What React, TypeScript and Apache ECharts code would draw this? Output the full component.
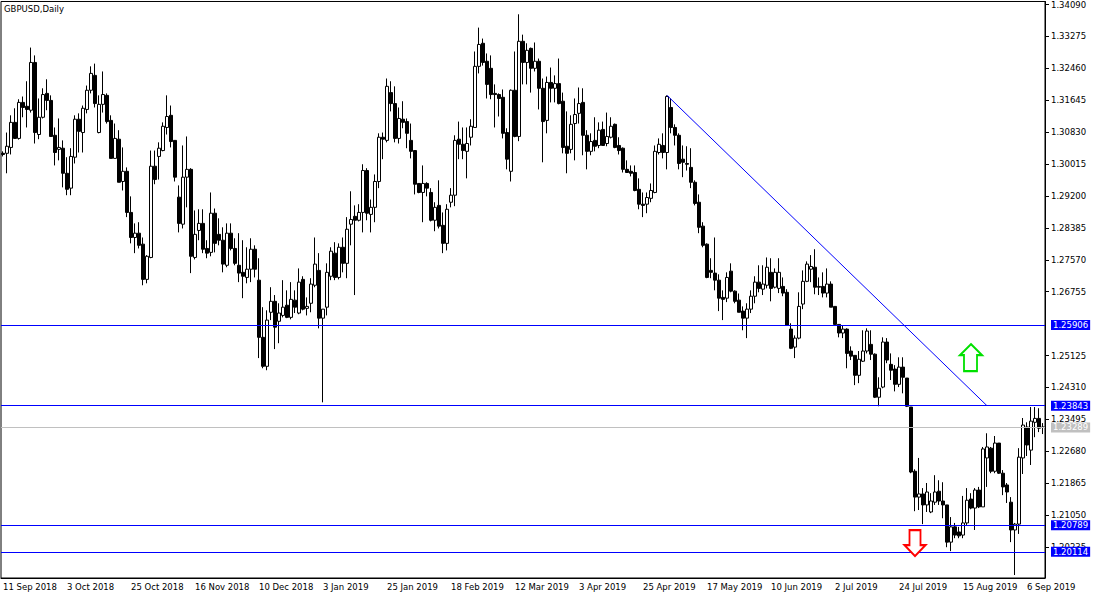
import React, { useEffect, useRef } from "react";
import * as echarts from "echarts";

// ---- Data (GBPUSD daily) ----
const opens = [
  1.3029,1.3029,1.3044,1.3108,1.3067,1.3159,1.3149,1.3139,1.3261,1.3077,
  1.3121,1.3182,1.3164,1.3075,1.3039,1.3042,1.2978,1.2940,1.3019,1.3116,
  1.3082,1.3141,1.3190,1.3228,1.3082,1.3154,1.3177,1.3113,1.3016,1.3065,
  1.2957,1.2983,1.2878,1.2814,1.2825,1.2797,1.2707,1.2763,1.2996,1.3021,
  1.3036,1.3095,1.3126,1.3062,1.2917,1.2848,1.2968,1.2988,1.2763,1.2832,
  1.2850,1.2786,1.2776,1.2876,1.2822,1.2807,1.2743,1.2825,1.2786,1.2743,
  1.2725,1.2712,1.2733,1.2784,1.2705,1.2559,1.2485,1.2623,1.2651,1.2600,
  1.2615,1.2641,1.2610,1.2654,1.2621,1.2707,1.2633,1.2646,1.2692,1.2730,
  1.2608,1.2636,1.2715,1.2774,1.2712,1.2789,1.2748,1.2848,1.2868,1.2858,
  1.2878,1.2985,1.2873,1.2891,1.2957,1.3070,1.3062,1.3184,1.3156,1.3067,
  1.3116,1.3110,1.3062,1.3036,1.2952,1.2929,1.2952,1.2929,1.2858,1.2896,
  1.2845,1.2799,1.2904,1.2922,1.3065,1.3052,1.3034,1.3070,1.3095,1.3251,
  1.3310,1.3264,1.3246,1.3182,1.3179,1.3172,1.3082,1.2983,1.3190,1.3072,
  1.3315,1.3261,1.3297,1.3246,1.3264,1.3195,1.3113,1.3210,1.3195,1.3207,
  1.3162,1.3047,1.3039,1.3105,1.3131,1.3159,1.3075,1.3034,1.3062,1.3049,
  1.3090,1.3054,1.3070,1.3103,1.3049,1.3042,1.2988,1.2983,1.2980,1.2937,
  1.2899,1.2899,1.2914,1.2929,1.3031,1.3049,1.3031,1.3146,1.3095,1.3075,
  1.3014,1.3003,1.2993,1.2955,1.2904,1.2843,1.2797,1.2730,1.2723,1.2705,
  1.2661,1.2659,1.2728,1.2677,1.2654,1.2626,1.2608,1.2631,1.2664,1.2700,
  1.2682,1.2692,1.2725,1.2687,1.2684,1.2689,1.2674,1.2580,1.2534,1.2557,
  1.2644,1.2702,1.2733,1.2738,1.2689,1.2689,1.2672,1.2695,1.2638,1.2592,
  1.2570,1.2580,1.2524,1.2513,1.2462,1.2498,1.2524,1.2541,1.2516,1.2406,
  1.2432,1.2547,1.2490,1.2478,1.2439,1.2483,1.2455,1.2381,1.2217,1.2151,
  1.2159,1.2131,1.2113,1.2138,1.2166,1.2141,1.2131,1.2036,1.2075,1.2062,
  1.2054,1.2085,1.2146,1.2123,1.2169,1.2126,1.2251,1.2276,1.2217,1.2289,
  1.2212,1.2182,1.2138,1.2067,1.2082,1.2251,1.2330,1.2271,1.2342,1.2352,1.2330,
];

const closes = [
  1.3026,1.3047,1.3108,1.3067,1.3159,1.3146,1.3141,1.3261,1.3082,1.3121,
  1.3179,1.3164,1.3072,1.3031,1.3044,1.2978,1.2937,1.3021,1.3116,1.3085,
  1.3144,1.3190,1.3233,1.3156,1.3154,1.3179,1.3110,1.3016,1.3067,1.2955,
  1.2983,1.2878,1.2814,1.2825,1.2794,1.2707,1.2766,1.2996,1.2962,1.3042,
  1.3098,1.3123,1.3059,1.2968,1.2850,1.2968,1.2988,1.2766,1.2822,1.2850,
  1.2784,1.2774,1.2876,1.2799,1.2807,1.2746,1.2825,1.2786,1.2748,1.2723,
  1.2715,1.2733,1.2784,1.2733,1.2559,1.2485,1.2603,1.2651,1.2585,1.2621,
  1.2636,1.2610,1.2656,1.2636,1.2700,1.2631,1.2638,1.2695,1.2746,1.2608,
  1.2631,1.2725,1.2779,1.2712,1.2789,1.2748,1.2835,1.2860,1.2858,1.2878,
  1.2985,1.2876,1.2891,1.2957,1.3070,1.3065,1.3200,1.3156,1.3067,1.3118,
  1.3108,1.3080,1.3034,1.2950,1.2929,1.2952,1.2940,1.2858,1.2891,1.2843,
  1.2799,1.2886,1.2922,1.3062,1.3052,1.3036,1.3054,1.3098,1.3251,1.3307,
  1.3261,1.3205,1.3179,1.3179,1.3169,1.3080,1.3014,1.3190,1.3072,1.3315,
  1.3261,1.3292,1.3246,1.3264,1.3195,1.3110,1.3210,1.3195,1.3207,1.3156,
  1.3044,1.3029,1.3103,1.3128,1.3156,1.3075,1.3034,1.3059,1.3047,1.3088,
  1.3049,1.3072,1.3098,1.3044,1.3036,1.2988,1.2980,1.2978,1.2934,1.2899,
  1.2896,1.2916,1.2934,1.3034,1.3052,1.3031,1.3174,1.3095,1.3075,1.3003,
  1.3006,1.3001,1.2955,1.2901,1.2840,1.2794,1.2712,1.2725,1.2705,1.2659,
  1.2656,1.2712,1.2677,1.2651,1.2623,1.2608,1.2631,1.2664,1.2700,1.2684,
  1.2695,1.2738,1.2684,1.2725,1.2725,1.2672,1.2590,1.2531,1.2557,1.2638,
  1.2702,1.2746,1.2740,1.2687,1.2687,1.2672,1.2695,1.2636,1.2592,1.2570,
  1.2580,1.2518,1.2511,1.2462,1.2503,1.2524,1.2575,1.2516,1.2406,1.2429,
  1.2547,1.2501,1.2475,1.2439,1.2483,1.2457,1.2383,1.2215,1.2151,1.2159,
  1.2131,1.2164,1.2141,1.2164,1.2141,1.2131,1.2036,1.2075,1.2054,1.2052,
  1.2085,1.2143,1.2123,1.2169,1.2126,1.2274,1.2279,1.2217,1.2289,1.2212,
  1.2177,1.2164,1.2067,1.2082,1.2253,1.2335,1.2284,1.2345,1.2352,1.2327,1.23289,
];

const lows = [
  1.3021,1.2978,1.3026,1.3066,1.3064,1.3121,1.3095,1.3133,1.3054,1.3065,
  1.3118,1.3139,1.3071,1.2998,1.3011,1.2942,1.2922,1.2922,1.3003,1.3031,
  1.3031,1.3131,1.3182,1.3146,1.3080,1.3133,1.3105,1.3016,1.3016,1.2955,
  1.2934,1.2866,1.2799,1.2774,1.2786,1.2692,1.2697,1.2761,1.2950,1.2962,
  1.3034,1.3077,1.3044,1.2957,1.2827,1.2837,1.2891,1.2723,1.2758,1.2807,
  1.2774,1.2761,1.2766,1.2776,1.2794,1.2725,1.2738,1.2781,1.2743,1.2700,
  1.2659,1.2697,1.2700,1.2712,1.2506,1.2480,1.2475,1.2603,1.2529,1.2544,
  1.2610,1.2608,1.2605,1.2621,1.2618,1.2628,1.2615,1.2623,1.2687,1.2582,
  1.2393,1.2615,1.2705,1.2705,1.2707,1.2725,1.2710,1.2794,1.2667,1.2855,
  1.2827,1.2858,1.2827,1.2853,1.2940,1.3014,1.3057,1.3136,1.3057,1.3054,
  1.3093,1.3042,1.3016,1.2924,1.2927,1.2853,1.2919,1.2855,1.2830,1.2837,
  1.2774,1.2781,1.2891,1.2894,1.3014,1.3014,1.2965,1.3049,1.3095,1.3233,
  1.3253,1.3169,1.3167,1.3095,1.3123,1.3067,1.2988,1.2957,1.3070,1.3060,
  1.3205,1.3205,1.3184,1.3238,1.3141,1.3006,1.3080,1.3159,1.3159,1.3154,
  1.3029,1.2978,1.3029,1.3011,1.3105,1.3024,1.2988,1.3024,1.3034,1.3042,
  1.3049,1.3047,1.3067,1.3042,1.3026,1.2980,1.2979,1.2970,1.2932,1.2886,
  1.2866,1.2876,1.2904,1.2927,1.3026,1.3016,1.2988,1.3080,1.3049,1.2988,
  1.2968,1.2985,1.2940,1.2896,1.2825,1.2789,1.2710,1.2710,1.2679,1.2626,
  1.2603,1.2649,1.2674,1.2646,1.2623,1.2577,1.2557,1.2621,1.2646,1.2674,
  1.2667,1.2684,1.2651,1.2684,1.2672,1.2664,1.2590,1.2529,1.2506,1.2554,
  1.2631,1.2700,1.2700,1.2669,1.2667,1.2661,1.2661,1.2636,1.2590,1.2559,
  1.2557,1.2480,1.2501,1.2437,1.2442,1.2496,1.2518,1.2501,1.2404,1.2383,
  1.2429,1.2493,1.2450,1.2421,1.2432,1.2416,1.2381,1.2212,1.2115,1.2118,
  1.2082,1.2113,1.2110,1.2131,1.2131,1.2097,1.2023,1.2013,1.2046,1.2046,
  1.2046,1.2080,1.2120,1.2067,1.2123,1.2126,1.2177,1.2212,1.2212,1.2210,
  1.2156,1.2136,1.2036,1.1952,1.2057,1.2210,1.2256,1.2233,1.2304,1.2317,1.2312,
];

const highs = [
  1.3034,1.3082,1.3126,1.3144,1.3167,1.3174,1.3213,1.3299,1.3279,1.3169,
  1.3195,1.3218,1.3177,1.3095,1.3118,1.3062,1.3019,1.3042,1.3126,1.3131,
  1.3151,1.3202,1.3251,1.3258,1.3177,1.3238,1.3182,1.3126,1.3105,1.3088,
  1.3044,1.2993,1.2919,1.2850,1.2853,1.2814,1.2769,1.3036,1.3036,1.3057,
  1.3108,1.3177,1.3151,1.3062,1.2947,1.3049,1.3072,1.2991,1.2883,1.2886,
  1.2886,1.2807,1.2929,1.2888,1.2863,1.2840,1.2850,1.2850,1.2812,1.2825,
  1.2807,1.2789,1.2812,1.2794,1.2761,1.2636,1.2628,1.2687,1.2667,1.2646,
  1.2705,1.2679,1.2700,1.2679,1.2735,1.2715,1.2661,1.2710,1.2814,1.2774,
  1.2631,1.2748,1.2789,1.2802,1.2799,1.2814,1.2866,1.2932,1.2896,1.2899,
  1.3001,1.2991,1.2911,1.2975,1.3080,1.3082,1.3220,1.3213,1.3200,1.3146,
  1.3162,1.3118,1.3105,1.3036,1.2952,1.2998,1.2955,1.2940,1.2904,1.2960,
  1.2878,1.2899,1.2940,1.3075,1.3110,1.3095,1.3095,1.3116,1.3289,1.3350,
  1.3322,1.3284,1.3279,1.3205,1.3182,1.3192,1.3093,1.3192,1.3289,1.3384,
  1.3332,1.3310,1.3299,1.3312,1.3271,1.3220,1.3225,1.3248,1.3228,1.3271,
  1.3184,1.3136,1.3126,1.3169,1.3197,1.3195,1.3088,1.3080,1.3121,1.3108,
  1.3110,1.3133,1.3121,1.3105,1.3070,1.3044,1.3011,1.2998,1.2998,1.2965,
  1.2929,1.2929,1.2952,1.3049,1.3067,1.3080,1.3177,1.3169,1.3103,1.3080,
  1.3049,1.3047,1.3042,1.2960,1.2924,1.2853,1.2799,1.2761,1.2814,1.2720,
  1.2679,1.2725,1.2748,1.2679,1.2671,1.2638,1.2646,1.2679,1.2715,1.2743,
  1.2743,1.2763,1.2761,1.2735,1.2761,1.2712,1.2682,1.2595,1.2564,1.2674,
  1.2730,1.2753,1.2769,1.2784,1.2712,1.2725,1.2735,1.2702,1.2638,1.2592,
  1.2590,1.2582,1.2536,1.2513,1.2524,1.2577,1.2582,1.2577,1.2518,1.2457,
  1.2559,1.2557,1.2518,1.2488,1.2508,1.2508,1.2455,1.2381,1.2222,1.2251,
  1.2174,1.2187,1.2161,1.2207,1.2194,1.2189,1.2131,1.2100,1.2085,1.2075,
  1.2154,1.2174,1.2161,1.2174,1.2177,1.2279,1.2314,1.2279,1.2307,1.2289,
  1.2220,1.2187,1.2151,1.2085,1.2276,1.2353,1.2342,1.2381,1.2381,1.2378,1.2340,
];

// Price-scale tick labels shown on the right axis
const priceTicks = [
  1.3409, 1.33275, 1.3246, 1.31645, 1.3083, 1.30015, 1.292, 1.28385, 1.2757,
  1.26755, 1.25125, 1.2431, 1.23495, 1.2268, 1.21865, 1.2105, 1.20235,
];

// Horizontal levels (blue) and current bid (grey)
const levelPrices = [1.25906, 1.23843, 1.20789, 1.20114];
const bidPrice = 1.23289;

// Trendline anchors [bar index, price]
const trendStart = [166, 1.3177];
const trendEnd = [245.5, 1.23843];

// Arrow annotations [bar index, price]
const upArrowAt = [241.75, 1.2507];
const downArrowAt = [227.6, 1.20336];

// Calendar: first bar date, and days without a bar
const firstDate = "2018-09-11";
const noBarDays = ["2018-12-25", "2019-01-01"];
const labelEvery = 16;

const MONTHS = ["Jan","Feb","Mar","Apr","May","Jun","Jul","Aug","Sep","Oct","Nov","Dec"];

function tradingDays(start: string, count: number, skip: string[]): string[] {
  const out: string[] = [];
  const d = new Date(start + "T00:00:00Z");
  while (out.length < count) {
    const wd = d.getUTCDay();
    const iso = d.toISOString().slice(0, 10);
    if (wd !== 0 && wd !== 6 && skip.indexOf(iso) < 0) {
      out.push(`${d.getUTCDate()} ${MONTHS[d.getUTCMonth()]} ${d.getUTCFullYear()}`);
    }
    d.setUTCDate(d.getUTCDate() + 1);
  }
  return out;
}

const FONT = "DejaVu Sans";
const FS = 8.5;
const BLUE = "#0000ff";
const GREY = "#c0c0c0";

export default function App() {
  const ref = useRef<HTMLDivElement>(null);

  useEffect(() => {
    if (!ref.current) return;
    const chart = echarts.init(ref.current, undefined, { renderer: "svg" });
    const dates = tradingDays(firstDate, opens.length, noBarDays);
    const candles = opens.map((o, i) => [o, closes[i], lows[i], highs[i]]);

    const tagLabel = (bg: string) => ({
      show: true,
      position: "end",
      distance: 6,
      formatter: (p: any) => Number(p.value).toFixed(5),
      color: "#ffffff",
      backgroundColor: bg,
      fontFamily: FONT,
      fontSize: FS,
      lineHeight: 9,
      padding: [1, 2, 0, 2],
    });

    const upPath = "path://M11,0 L22,11 L17,11 L17,27 L4,27 L4,11 L0,11 Z";
    const downPath = "path://M5,0 L16,0 L16,15 L21,15 L10.5,26 L0,15 L5,15 Z";

    chart.setOption({
      animation: false,
      backgroundColor: "#ffffff",
      title: {
        text: "GBPUSD,Daily",
        left: 4,
        top: 4,
        padding: 0,
        textStyle: { fontFamily: FONT, fontSize: FS, fontWeight: "normal", color: "#000" },
      },
      grid: {
        left: 1,
        top: 1,
        width: 1044,
        height: 577,
        show: true,
        borderColor: "#000",
        borderWidth: 1,
        backgroundColor: "#fff",
      },
      xAxis: {
        type: "category",
        data: dates,
        boundaryGap: true,
        axisLine: { lineStyle: { color: "#000", width: 1 } },
        axisTick: {
          alignWithLabel: true,
          interval: (i: number) => i % labelEvery === 0,
          length: 5,
          lineStyle: { color: "#000" },
        },
        axisLabel: {
          interval: (i: number) => i % labelEvery === 0,
          align: "left",
          margin: 4,
          color: "#000",
          fontFamily: FONT,
          fontSize: FS,
        },
        splitLine: { show: false },
      },
      yAxis: {
        type: "value",
        position: "right",
        min: 1.19444,
        max: 1.34167,
        scale: true,
        splitLine: { show: false },
        axisLine: { show: true, lineStyle: { color: "#000", width: 1 } },
        axisTick: { show: true, customValues: priceTicks, length: 4, lineStyle: { color: "#000" } },
        axisLabel: {
          customValues: priceTicks,
          formatter: (v: number) => v.toFixed(5),
          margin: 6,
          color: "#000",
          fontFamily: FONT,
          fontSize: FS,
        },
      },
      series: [
        {
          type: "candlestick",
          data: candles,
          barWidth: 3,
          itemStyle: {
            color: "#ffffff",
            color0: "#000000",
            borderColor: "#000000",
            borderColor0: "#000000",
            borderWidth: 1,
          },
        },
        {
          type: "line",
          name: "objects",
          data: [],
          z: 5,
          color: BLUE,
          markLine: {
            silent: true,
            symbol: ["none", "none"],
            precision: 5,
            animation: false,
            lineStyle: { color: BLUE, width: 1, type: "solid" },
            data: [
              ...levelPrices.map((v) => ({
                yAxis: v,
                lineStyle: { color: BLUE, width: 1, type: "solid" },
                label: tagLabel(BLUE),
              })),
              {
                yAxis: bidPrice,
                lineStyle: { color: GREY, width: 1, type: "solid" },
                label: tagLabel(GREY),
              },
              [
                { coord: trendStart, lineStyle: { color: BLUE, width: 1, type: "solid" }, label: { show: false } },
                { coord: trendEnd },
              ],
            ],
          },
          markPoint: {
            silent: true,
            animation: false,
            label: { show: false },
            data: [
              {
                coord: upArrowAt,
                symbol: upPath,
                symbolSize: [22, 27],
                itemStyle: { color: "#ffffff", borderColor: "#00e000", borderWidth: 2 },
              },
              {
                coord: downArrowAt,
                symbol: downPath,
                symbolSize: [21, 26],
                itemStyle: { color: "#ffffff", borderColor: "#ff0000", borderWidth: 2 },
              },
            ],
          },
        },
      ],
    });

    return () => chart.dispose();
  }, []);

  return (
    <div
      ref={ref}
      style={{ position: "absolute", left: 0, top: 0, width: 1100, height: 600, background: "#fff" }}
    />
  );
}
